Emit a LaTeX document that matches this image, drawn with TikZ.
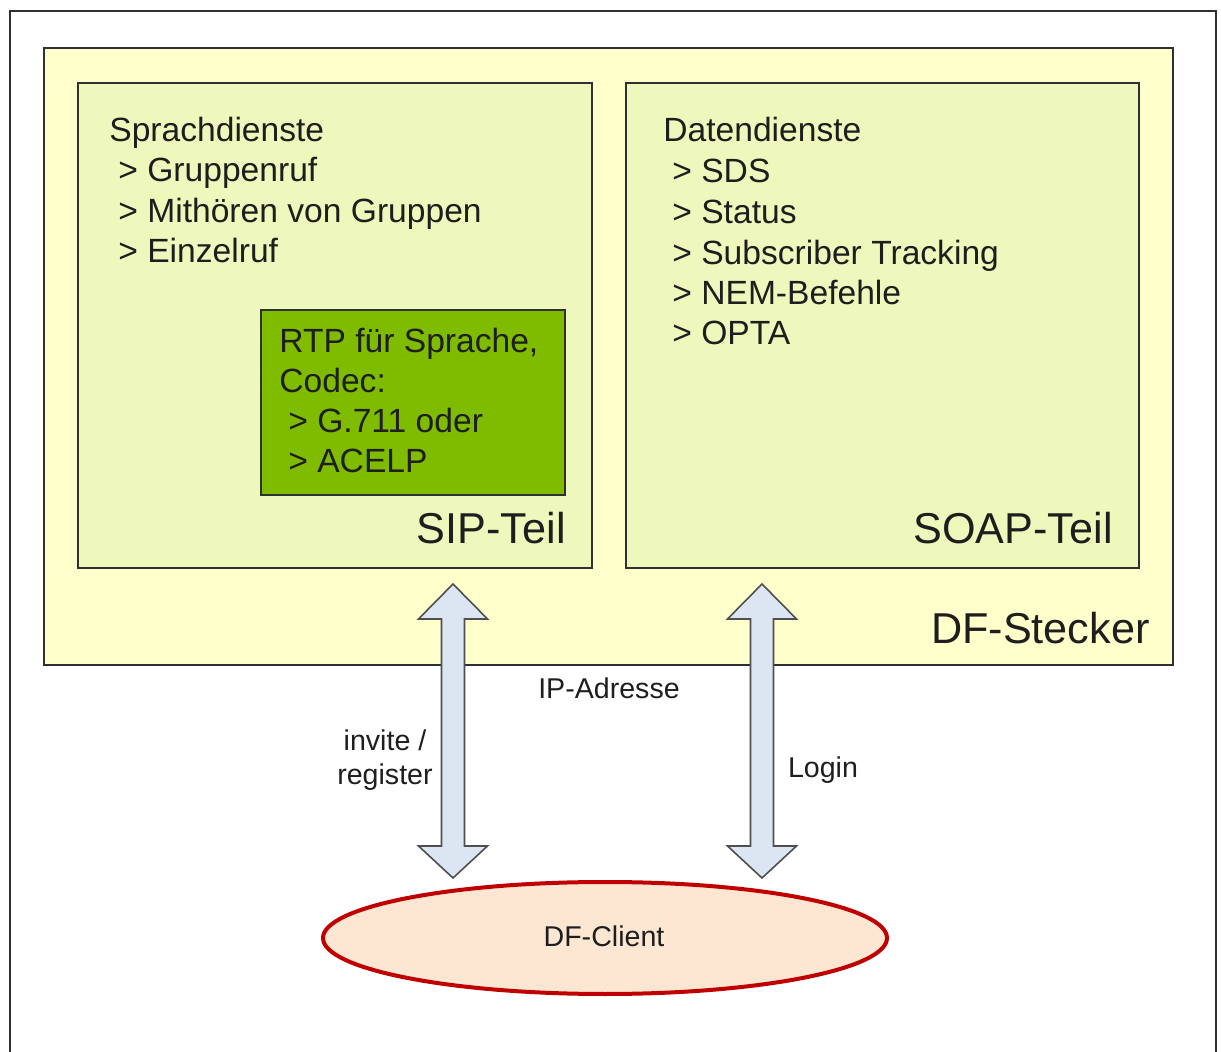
\documentclass[tikz,border=0pt]{standalone}
\usepackage{fontspec}
\setmainfont{Liberation Sans}
\usetikzlibrary{shapes.geometric}

\definecolor{frameline}{HTML}{303030}
\definecolor{steckerfill}{HTML}{FFFFCC}
\definecolor{partfill}{HTML}{EFF8BC}
\definecolor{rtpfill}{HTML}{7FBC00}
\definecolor{arrowfill}{HTML}{DCE6F2}
\definecolor{clientline}{HTML}{C00000}
\definecolor{clientfill}{HTML}{FDE7D2}
\definecolor{textcol}{HTML}{1E1E1E}

% helper: vertical double-headed block arrow at x, from tip y=#2 down to tip y=#3
\newcommand\biarrow[3]{%
  \draw[bigarrow] (#1,#2) -- ++(34.5,35) -- ++(-23,0)
    -- ({#1+11.5},{#3-32}) -- ++(23,0) -- (#1,#3)
    -- ++(-34.5,-32) -- ++(23,0) -- ({#1-11.5},{#2+35})
    -- ++(-23,0) -- cycle;}

\tikzset{
  box/.style={draw=frameline, line width=0.8pt},
  bigarrow/.style={draw=frameline!85, fill=arrowfill, line width=0.8pt, line join=miter},
  listtxt/.style={anchor=base west, inner sep=0pt, text=textcol,
                  font=\fontsize{16.8}{20}\selectfont},
  bigtxt/.style={anchor=base east, inner sep=0pt, text=textcol,
                 font=\fontsize{21.6}{26}\selectfont},
  smalltxt/.style={anchor=base, inner sep=0pt, text=textcol,
                   font=\fontsize{14.3}{17}\selectfont},
}

\begin{document}
\begin{tikzpicture}[x=0.5pt, y=-0.5pt]
  \useasboundingbox (0,0) rectangle (1221,1052);
  \fill[white] (0,0) rectangle (1221,1052);

  % outer frame, open past the lower edge
  \draw[frameline, line width=1.1pt] (10,1070) -- (10,11) -- (1216,11) -- (1216,1070);

  % DF-Stecker container
  \draw[box, fill=steckerfill] (44,48) rectangle (1173,665);
  \node[bigtxt] (stecker) at (1150,644) {DF-Stecker};

  % SIP part
  \draw[box, fill=partfill] (78,83) rectangle (592,568);
  \node[listtxt] (sip0) at (109,142) {Sprachdienste};
  \node[listtxt] (sip1) at (118,182) {> Gruppenruf};
  \node[listtxt] (sip2) at (118,223) {> Mithören von Gruppen};
  \node[listtxt] (sip3) at (118,263) {> Einzelruf};
  \node[bigtxt] (siplabel) at (566,544) {SIP-Teil};

  % RTP box inside the SIP part
  \draw[box, fill=rtpfill] (261,310) rectangle (565,495);
  \node[listtxt] (rtp0) at (279,353) {RTP für Sprache,};
  \node[listtxt] (rtp1) at (279,393) {Codec:};
  \node[listtxt] (rtp2) at (288,433) {> G.711 oder};
  \node[listtxt] (rtp3) at (288,473) {> ACELP};

  % SOAP part
  \draw[box, fill=partfill] (626,83) rectangle (1139,568);
  \node[listtxt] (soap0) at (663,142) {Datendienste};
  \node[listtxt] (soap1) at (672,183) {> SDS};
  \node[listtxt] (soap2) at (672,224) {> Status};
  \node[listtxt] (soap3) at (672,265) {> Subscriber Tracking};
  \node[listtxt] (soap4) at (672,305) {> NEM-Befehle};
  \node[listtxt] (soap5) at (672,345) {> OPTA};
  \node[bigtxt] (soaplabel) at (1113,544) {SOAP-Teil};

  % client
  \node[ellipse, draw=clientline, line width=2pt, fill=clientfill,
        minimum width=282pt, minimum height=56pt, inner sep=0pt]
        (client) at (605,938) {};
  \node[smalltxt] (clientlabel) at (604,946) {DF-Client};

  % double-headed arrows between the parts and the client
  \biarrow{453}{584}{878}
  \biarrow{762}{584}{878}

  % arrow labels
  \node[smalltxt] (ip) at (609,699) {IP-Adresse};
  \node[smalltxt] (inv1) at (385,751) {invite /};
  \node[smalltxt] (inv2) at (385,785) {register};
  \node[smalltxt] (login) at (823,778) {Login};
\end{tikzpicture}
\end{document}
